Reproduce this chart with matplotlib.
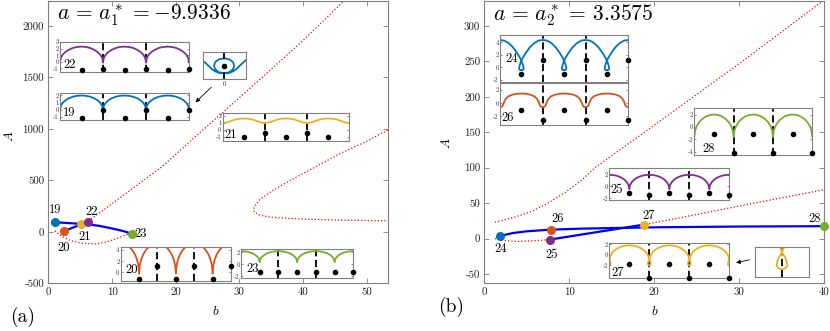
import matplotlib
matplotlib.use('Agg')
import matplotlib.pyplot as plt
import numpy as np

plt.rcParams['font.family'] = 'serif'
plt.rcParams['font.serif'] = ['cmr10', 'DejaVu Serif']
plt.rcParams['mathtext.fontset'] = 'cm'
plt.rcParams['axes.unicode_minus'] = False

W, H = 830, 331

C_BLUE = '#0072BD'
C_ORANGE = '#D95319'
C_YELLOW = '#EDB120'
C_PURPLE = '#7E2F8E'
C_GREEN = '#77AC30'

# ---- panel (a): a = -9.9336 ----
a_red_low_b = [1.05, 2.0, 3.5, 5.5, 7.5, 9.2, 11.0, 12.0, 13.1]
a_red_low_A = [10, -40, -85, -113, -118, -97, -60, -32, -16]
a_red_up_b = [6.3, 7.5, 9.7, 13.3, 18.0, 23.0, 29.0, 35.0, 40.0, 46.5]
a_red_up_A = [104, 160, 260, 424, 640, 920, 1248, 1580, 1860, 2250]
a_fold_b = [53.3, 50.0, 45.8, 41.0, 38.0, 35.3, 33.3, 32.5, 32.2, 32.4, 33.2, 35.0, 37.9, 41.5, 45.8, 53.3]
a_fold_A = [990, 880, 761, 599, 500, 405, 320, 260, 217, 190, 162, 142, 130, 121, 114, 107]
a_blue1_b = [1.0, 2.5, 4.2, 6.3, 8.0, 9.2, 10.5, 11.8, 13.1]
a_blue1_A = [93, 88, 81, 72, 58, 43, 26, 7, -18]
a_blue2_b = [2.5, 6.3]
a_blue2_A = [8, 100]
a_pt_b = [1.0, 2.5, 5.2, 6.3, 13.1]
a_pt_A = [93, 8, 74, 100, -18]
a_pt_id = ['19', '20', '21', '22', '23']
a_pt_col = [C_BLUE, C_ORANGE, C_YELLOW, C_PURPLE, C_GREEN]

# ---- panel (b): a = 3.3575 ----
b_red_up_b = [1.26, 3.5, 5.5, 7.5, 9.5, 11.5, 13.0, 20.0, 30.0, 39.9]
b_red_up_A = [23, 30, 38, 50, 65, 83, 100, 160, 247, 336]
b_red_low_b = [1.26, 2.5, 4.0, 6.0, 7.7, 12.0, 15.0, 18.8, 25.0, 30.0, 35.0, 40.0]
b_red_low_A = [0, -3, -4, -3, -1.4, 7, 12.5, 19.7, 34, 46, 57.5, 69]
b_blue1_b = [1.85, 2.5, 3.4, 5.0, 7.8, 11.3, 15.2, 20.7, 30.0, 40.0]
b_blue1_A = [3.2, 5.5, 7.9, 10.3, 12.6, 14.0, 14.9, 16.0, 17.0, 17.5]
b_blue2_b = [7.7, 18.8]
b_blue2_A = [-1.4, 19.7]
b_pt_b = [1.85, 7.7, 7.8, 18.8, 40.0]
b_pt_A = [3.2, -1.4, 12.6, 19.7, 17.5]
b_pt_id = ['24', '25', '26', '27', '28']
b_pt_col = [C_BLUE, C_PURPLE, C_ORANGE, C_YELLOW, C_GREEN]

# ---- inset profiles: half arc, distance from arc centre vs height ----
dx_arc = [0, 0.1, 0.2, 0.3, 0.38, 0.44, 0.48, 0.5]
y22 = [2.3, 2.25, 2.1, 1.8, 1.45, 1.05, 0.6, -0.1]
y19 = [2.0, 1.96, 1.83, 1.6, 1.3, 0.95, 0.56, 0.0]
y28 = [2.0, 1.93, 1.7, 1.28, 0.74, 0.11, -0.59, -1.6]
y27 = [1.8, 1.74, 1.56, 1.22, 0.79, 0.28, -0.29, -1.1]
y25 = [2.0, 1.95, 1.8, 1.52, 1.16, 0.74, 0.27, -0.4]
y23 = [2.2, 2.16, 2.05, 1.84, 1.57, 1.26, 0.9, 0.4]
y20 = [5.2, 5.09, 4.75, 4.12, 3.31, 2.37, 1.31, -0.2]
dx24 = [0, 0.1, 0.2, 0.3, 0.4, 0.47, 0.51, 0.54, 0.555, 0.54, 0.5]
y24 = [4.4, 4.3, 3.9, 3.25, 2.3, 1.5, 0.9, 0.3, -0.2, -0.38, -0.45]
dx26 = [0, 0.1, 0.2, 0.3, 0.36, 0.4, 0.43, 0.46, 0.5]
y26 = [1.45, 1.42, 1.3, 1.05, 0.7, 0.25, -0.3, -0.55, -0.6]
dx21 = [0, 0.1, 0.2, 0.3, 0.4, 0.5]
y21 = [1.65, 1.62, 1.5, 1.3, 1.08, 1.0]
drop27_dx = [-0.02, -0.04, 0.0, 0.04, 0.02]
drop27_y = [-1.1, -1.8, -2.1, -1.8, -1.1]

half_centres = [0.5, 1.5, 2.5]
int_centres = [0, 1, 2, 3]

dot_x = [0.5, 1, 1.5, 2, 2.5, 3]
dots22 = [-1.2, -1.15, -1.2, -1.15, -1.2, -1.15]
dots19 = [-1.1, 0.0, -1.1, 0.0, -1.1, 0.0]
dots21 = [-1.0, -0.5, -1.0, -0.5, -1.0]
dots20 = [-1.2, 1.2, -1.2, 1.2, -1.2, 1.2]
dots23 = [-1.2, -1.2, -1.2, -1.2, -1.2, -1.2]
dots24 = [-1.1, 1.2, -1.1, 1.2, -1.1, 1.2]
dots26 = [-1.0, -2.5, -1.0, -2.5, -1.0, -2.5]
dots28 = [-1.1, -4.1, -1.1, -4.1, -1.1, -4.1]
dots25 = [-1.1, -1.4, -1.1, -1.4, -1.1, -1.4]
dots27 = [-1.7, -4.4, -1.7, -4.4, -1.7, -4.4]

# magnified loop near cusp of 19 and drop near cusp of 27
z19_x = [-1.0, -0.8, -0.6, -0.4, -0.2, 0.0, 0.25, 0.42, 0.47, 0.42, 0.25, 0.0,
         -0.25, -0.42, -0.47, -0.42, -0.25, 0.0, 0.2, 0.4, 0.6, 0.8, 1.0]
z19_y = [0.88, 0.7, 0.5, 0.36, 0.29, 0.28, 0.33, 0.48, 0.63, 0.8, 0.93, 0.98,
         0.93, 0.8, 0.63, 0.48, 0.33, 0.28, 0.29, 0.36, 0.5, 0.7, 0.88]
z27_x = [-0.1, -0.04, 0.0, 0.08, 0.17, 0.2, 0.12, 0.0, -0.12, -0.2, -0.17, -0.08, 0.0, 0.04, 0.1]
z27_y = [1.14, 1.01, 0.89, 0.77, 0.58, 0.4, 0.3, 0.27, 0.3, 0.4, 0.58, 0.77, 0.89, 1.01, 1.14]


def px_rect(l, t, r, b):
    return [l / W, 1 - b / H, (r - l) / W, (b - t) / H]


def draw_arcs(ax, centres, dx, y, color, lw=1.3):
    dx = np.asarray(dx)
    y = np.asarray(y)
    xs = np.concatenate([-dx[::-1], dx[1:]])
    ys = np.concatenate([y[::-1], y[1:]])
    for c in centres:
        ax.plot(c + xs, ys, color=color, lw=lw, solid_capstyle='round')


def style_inset(ax, ylim, yticks, label, lpos, xlim=(0, 3)):
    ax.set_xlim(*xlim)
    ax.set_ylim(*ylim)
    ax.set_xticks([])
    ax.set_yticks(yticks)
    ax.tick_params(axis='y', direction='in', length=1.5, width=0.4,
                   labelsize=4.8, pad=0.8, colors='#333333', right=True)
    for s in ax.spines.values():
        s.set_color('#808080')
        s.set_linewidth(0.8)
    if label:
        ax.text(lpos[0], lpos[1], label, transform=ax.transAxes,
                fontsize=9, ha='left', va='center')


def dashes_and_dots(ax, ylim, dots, dashx=(1, 2)):
    for x in dashx:
        ax.plot([x, x], ylim, color='k', lw=1.3, ls=(0, (4, 2)), zorder=1)
    ax.plot(dot_x[:len(dots)], dots, 'o', color='k', ms=3, clip_on=False, zorder=3)


def style_main(ax):
    for s in ax.spines.values():
        s.set_color('#808080')
        s.set_linewidth(0.8)
    ax.tick_params(direction='in', length=3.5, width=0.6, top=True, right=True,
                   labelsize=7.8, colors='#808080', labelcolor='#222222', pad=3)


fig = plt.figure(figsize=(W / 100, H / 100), dpi=100)

# ================= panel (a) =================
axa = fig.add_axes(px_rect(48.3, 1, 388, 283.3))
axa.set_xlim(0, 53.33)
axa.set_ylim(-500, 2243)
axa.set_xticks(range(0, 51, 10))
axa.set_yticks(range(-500, 2001, 500))
style_main(axa)
axa.plot(a_red_low_b, a_red_low_A, color='r', ls=':', lw=0.9)
axa.plot(a_red_up_b, a_red_up_A, color='r', ls=':', lw=0.9)
axa.plot(a_fold_b, a_fold_A, color='r', ls=':', lw=0.9)
axa.plot(a_blue1_b, a_blue1_A, color='b', lw=1.6)
axa.plot(a_blue2_b, a_blue2_A, color='b', lw=1.6)
a_offsets = [(0, 8.7), (-0.6, -12), (2.6, -9), (2.4, 7), (6.5, 0)]
for bb, AA, lab, col, off in zip(a_pt_b, a_pt_A, a_pt_id, a_pt_col, a_offsets):
    axa.plot(bb, AA, 'o', color=col, ms=5.5, zorder=4)
    axa.annotate(lab, (bb, AA), xytext=off, textcoords='offset points',
                 ha='center', va='center', fontsize=9)
axa.text(0.026, 0.95, r'$a\,=\,a_1^*\,={-}9.9336$', transform=axa.transAxes,
         fontsize=15.5, va='center', ha='left')
axa.set_xlabel('$b$', fontsize=9.5)
axa.xaxis.set_label_coords(0.494, -0.1)
axa.xaxis.label.set_va('center')
axa.set_ylabel('$A$', fontsize=9.5)
axa.yaxis.set_label_coords(-0.113, 0.52)
axa.yaxis.label.set_va('center')
axa.annotate('', xy=(22.8, 1240), xytext=(25.9, 1424),
             arrowprops=dict(arrowstyle='-|>', lw=0.6, color='k', mutation_scale=6))

# inset 22
ax = fig.add_axes(px_rect(60, 42, 189, 72.3))
lim = (-1.6, 3.0)
draw_arcs(ax, half_centres, dx_arc, y22, C_PURPLE)
dashes_and_dots(ax, lim, dots22)
style_inset(ax, lim, [-1, 0, 1, 2, 3], '22', (0.025, 0.25))

# inset 19
ax = fig.add_axes(px_rect(60, 93, 189, 119.7))
lim = (-1.4, 2.35)
draw_arcs(ax, half_centres, dx_arc, y19, C_BLUE)
dashes_and_dots(ax, lim, dots19)
style_inset(ax, lim, [-1, 0, 1, 2], '19', (0.025, 0.25))

# magnified cusp of 19
ax = fig.add_axes(px_rect(202.7, 52.3, 245.5, 79.3))
ax.plot(z19_x, z19_y, color=C_BLUE, lw=1.3)
ax.plot([0, 0], [0.98, 1.26], color='k', lw=1.3)
ax.plot([0, 0], [0.0, 0.28], color='k', lw=1.3)
ax.plot([0], [0.63], 'o', color='k', ms=3)
style_inset(ax, (0, 1.26), [], None, None, xlim=(-1, 1))
ax.set_xticks([0])
ax.set_xticklabels(['0'])
ax.tick_params(axis='x', length=0, labelsize=5, pad=1.5, colors='#333333')

# inset 21
ax = fig.add_axes(px_rect(222.7, 113.3, 349.3, 141))
lim = (-1.6, 2.4)
draw_arcs(ax, half_centres, dx21, y21, C_YELLOW)
dashes_and_dots(ax, lim, dots21)
style_inset(ax, lim, [-1, 0, 1, 2], '21', (0.01, 0.22))

# inset 20
ax = fig.add_axes(px_rect(120.7, 246.7, 231, 280.7))
lim = (-1.5, 4.6)
draw_arcs(ax, int_centres, dx_arc, y20, C_ORANGE)
dashes_and_dots(ax, lim, dots20)
style_inset(ax, lim, [0, 2, 4], '20', (0.04, 0.31))

# inset 23
ax = fig.add_axes(px_rect(241, 249.3, 353.3, 278.3))
lim = (-2.3, 2.5)
draw_arcs(ax, int_centres, dx_arc, y23, C_GREEN)
dashes_and_dots(ax, lim, dots23)
style_inset(ax, lim, [-2, 0, 2], '23', (0.045, 0.32))

# ================= panel (b) =================
axb = fig.add_axes(px_rect(484.3, 1, 824.3, 283.3))
axb.set_xlim(0, 40)
axb.set_ylim(-63.1, 335.3)
axb.set_xticks(range(0, 41, 10))
axb.set_yticks(range(-50, 301, 50))
style_main(axb)
axb.plot(b_red_up_b, b_red_up_A, color='r', ls=':', lw=0.9)
axb.plot(b_red_low_b, b_red_low_A, color='r', ls=':', lw=0.9)
axb.plot(b_blue1_b, b_blue1_A, color='b', lw=1.6)
axb.plot(b_blue2_b, b_blue2_A, color='b', lw=1.6)
b_offsets = [(0.7, -8.9), (1.4, -10.8), (5.1, 7.9), (3, 6.2), (-6.7, 5.4)]
for bb, AA, lab, col, off in zip(b_pt_b, b_pt_A, b_pt_id, b_pt_col, b_offsets):
    axb.plot(bb, AA, 'o', color=col, ms=5.5, zorder=4, clip_on=False)
    axb.annotate(lab, (bb, AA), xytext=off, textcoords='offset points',
                 ha='center', va='center', fontsize=9)
axb.text(0.026, 0.95, r'$a\,=\,a_2^*\,=\,3.3575$', transform=axb.transAxes,
         fontsize=15.5, va='center', ha='left')
axb.set_xlabel('$b$', fontsize=9.5)
axb.xaxis.set_label_coords(0.5, -0.1)
axb.xaxis.label.set_va('center')
axb.set_ylabel('$A$', fontsize=9.5)
axb.yaxis.set_label_coords(-0.111, 0.497)
axb.yaxis.label.set_va('center')
axb.annotate('', xy=(29.3, -35), xytext=(31.5, -29),
             arrowprops=dict(arrowstyle='-|>', lw=0.6, color='k', mutation_scale=6))

# inset 24
ax = fig.add_axes(px_rect(500, 35, 628.3, 81.7))
lim = (-2.3, 5.2)
draw_arcs(ax, int_centres, dx24, y24, C_BLUE)
dashes_and_dots(ax, lim, dots24)
style_inset(ax, lim, [-2, 0, 2, 4], '24', (0.045, 0.48))

# inset 26
ax = fig.add_axes(px_rect(500, 83.3, 628.3, 125))
lim = (-3.3, 3.0)
draw_arcs(ax, half_centres, dx26, y26, C_ORANGE)
dashes_and_dots(ax, lim, dots26)
style_inset(ax, lim, [-2, 0, 2], '26', (0.013, 0.18))

# inset 28
ax = fig.add_axes(px_rect(694.3, 108.3, 812.3, 155))
lim = (-4.5, 3.0)
draw_arcs(ax, half_centres, dx_arc, y28, C_GREEN)
dashes_and_dots(ax, lim, dots28)
style_inset(ax, lim, [-4, -2, 0, 2], '28', (0.068, 0.14))

# inset 25
ax = fig.add_axes(px_rect(609.3, 168.3, 729.3, 200))
lim = (-2.3, 3.1)
draw_arcs(ax, int_centres, dx_arc, y25, C_PURPLE)
dashes_and_dots(ax, lim, dots25)
style_inset(ax, lim, [-2, 0, 2], '25', (0.01, 0.32))

# inset 27
ax = fig.add_axes(px_rect(609.3, 243.3, 729.3, 278.3))
lim = (-4.5, 2.2)
draw_arcs(ax, half_centres, dx_arc, y27, C_YELLOW)
for c in int_centres:
    ax.plot(np.asarray(drop27_dx) + c, drop27_y, color=C_YELLOW, lw=1.1)
dashes_and_dots(ax, lim, dots27)
style_inset(ax, lim, [-2, 0, 2], '27', (0.014, 0.14))

# magnified cusp of 27
ax = fig.add_axes(px_rect(755, 246.5, 809, 276.5))
ax.plot([0, 0], [0, 1.11], color='k', lw=1.3, ls=(0, (4, 2)), zorder=1)
ax.plot(z27_x, z27_y, color=C_YELLOW, lw=1.3, zorder=2)
style_inset(ax, (0, 1.11), [], None, None, xlim=(-1, 1))

fig.text(23 / W, 1 - 316.7 / H, '(a)', ha='center', va='center', fontsize=14)
fig.text(451 / W, 1 - 306.7 / H, '(b)', ha='center', va='center', fontsize=14)

fig.savefig('out.png', dpi=100)
